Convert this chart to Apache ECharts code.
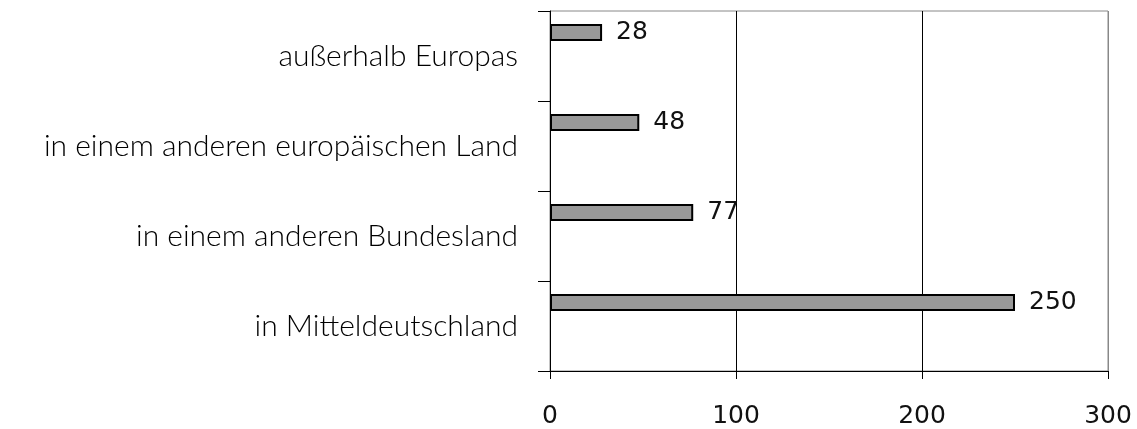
<!DOCTYPE html>
<html>
<head>
<meta charset="utf-8">
<script src="https://cdn.jsdelivr.net/npm/echarts@6/dist/echarts.min.js"></script>
<style>
  html, body { margin: 0; padding: 0; background: #fff; }
  #chart { width: 1137px; height: 429px; }
</style>
</head>
<body>
<div id="chart"></div>
<script>
var categories = ['in Mitteldeutschland', 'in einem anderen Bundesland', 'in einem anderen europäischen Land', 'außerhalb Europas'];
var values = [250, 77, 48, 28];
var xTicks = [0, 100, 200, 300];

window.onload = function() {
    var chart = echarts.init(document.getElementById('chart'));

    var option = {
        animation: false,
        grid: {
            left: 550,
            right: 29,
            top: 11,
            bottom: 57,
            show: true,
            borderColor: '#888',
            borderWidth: 1
        },
        xAxis: {
            type: 'value',
            min: xTicks[0],
            max: xTicks[xTicks.length - 1],
            interval: 100,
            axisLine: { show: true, lineStyle: { color: '#000', width: 1 } },
            axisTick: { show: true, length: 8, lineStyle: { color: '#000' } },
            axisLabel: {
                margin: 33,
                color: '#111',
                fontFamily: 'DejaVu Sans',
                fontSize: 25
            },
            splitLine: {
                show: true,
                lineStyle: { color: ['#000', '#000', '#000', '#888'], width: 1 }
            }
        },
        yAxis: {
            type: 'category',
            data: categories,
            axisLine: { show: true, onZero: false, lineStyle: { color: '#000', width: 1 } },
            axisTick: { show: true, inside: false, length: 12, lineStyle: { color: '#000' } },
            axisLabel: {
                margin: 32,
                color: '#000',
                fontFamily: 'Lato',
                fontWeight: 300,
                fontSize: 30
            },
            splitLine: { show: false }
        },
        series: [{
            name: 'Anzahl',
            type: 'bar',
            barWidth: 17,
            barGap: '176%',
            itemStyle: { color: '#999', borderColor: '#000', borderWidth: 2 },
            label: {
                show: true,
                position: 'right',
                distance: 14,
                color: '#111',
                fontFamily: 'DejaVu Sans',
                fontSize: 25
            },
            data: values
        }, {
            name: 'leer',
            type: 'bar',
            barWidth: 17,
            barGap: '176%',
            data: [null, null, null, null]
        }]
    };

    chart.setOption(option);
};
</script>
</body>
</html>
